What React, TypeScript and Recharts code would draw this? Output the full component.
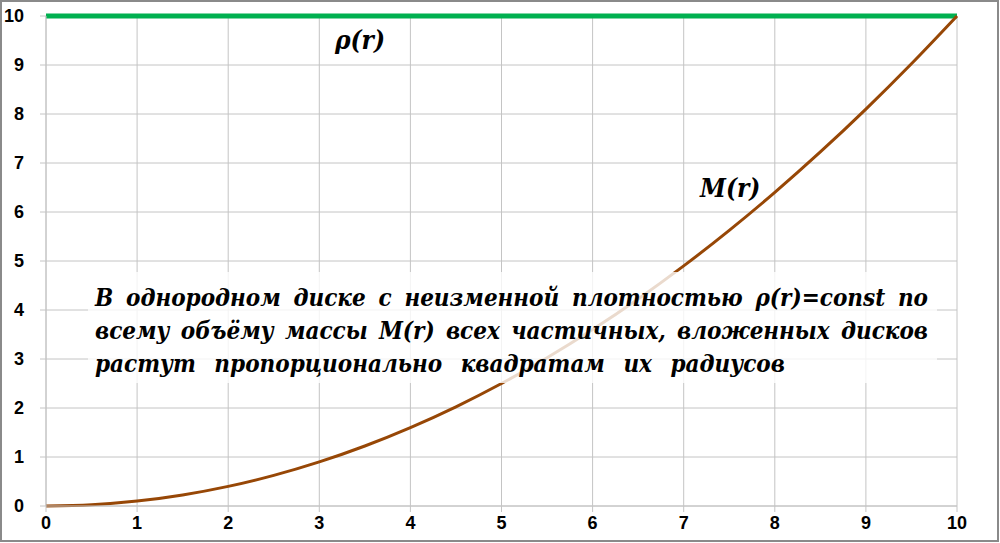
import React from 'react';
import { LineChart, Line, XAxis, YAxis, CartesianGrid } from 'recharts';

// radius of the nested disc
const radii = [0, 0.5, 1, 1.5, 2, 2.5, 3, 3.5, 4, 4.5, 5, 5.5, 6, 6.5, 7, 7.5, 8, 8.5, 9, 9.5, 10];
// M(r)
const massValues = [0, 0.025, 0.1, 0.225, 0.4, 0.625, 0.9, 1.225, 1.6, 2.025, 2.5, 3.025, 3.6, 4.225, 4.9, 5.625, 6.4, 7.225, 8.1, 9.025, 10];
// rho(r), the flat green line
const densityValues = [10, 10, 10, 10, 10, 10, 10, 10, 10, 10, 10, 10, 10, 10, 10, 10, 10, 10, 10, 10, 10];

const xTicks = [0, 1, 2, 3, 4, 5, 6, 7, 8, 9, 10];
const yTicks = [0, 1, 2, 3, 4, 5, 6, 7, 8, 9, 10];

const noteLines = [
  'В однородном диске с неизменной плотностью ρ(r)=const по',
  'всему объёму массы M(r) всех частичных, вложенных дисков',
  'растут пропорционально квадратам их радиусов',
];

const data = radii.map((r, i) => ({ r, rho: densityValues[i], mass: massValues[i] }));

const serif = '"DejaVu Serif Condensed", "DejaVu Serif", serif';
const serifText = {
  fontFamily: serif,
  fontStretch: 'condensed' as const,
  fontWeight: 700,
  fontStyle: 'italic' as const,
  color: '#000',
};

const renderTick = (anchor: 'middle' | 'end', dyEm: string) => (props: any) => {
  const { x, y, payload } = props;
  return (
    <text
      x={x}
      y={y}
      dy={dyEm}
      textAnchor={anchor}
      fill="#000"
      fontFamily="Liberation Sans, Arial, sans-serif"
      fontWeight={700}
      fontSize={18}
    >
      {payload.value}
    </text>
  );
};

export default function App() {
  return (
    <div style={{ position: 'absolute', left: 0, top: 0, width: 1000, height: 543, background: '#fff' }}>
      <LineChart width={1000} height={543} data={data} margin={{ top: 16, right: 43, bottom: 7, left: 6 }}>
        <CartesianGrid stroke="#c4c4c4" strokeWidth={1} />
        <XAxis
          dataKey="r"
          type="number"
          domain={[0, 10]}
          ticks={xTicks}
          height={30}
          tickSize={6}
          tickMargin={4}
          stroke="#c4c4c4"
          tick={renderTick('middle', '0.71em')}
          interval={0}
        />
        <YAxis
          type="number"
          domain={[0, 10]}
          ticks={yTicks}
          width={40}
          tickSize={6}
          tickMargin={16}
          stroke="#c4c4c4"
          tick={renderTick('end', '0.36em')}
          interval={0}
        />
        <Line dataKey="rho" type="linear" stroke="#00b050" strokeWidth={5} dot={false} isAnimationActive={false} />
        <Line dataKey="mass" type="monotone" stroke="#974706" strokeWidth={3} dot={false} isAnimationActive={false} />
      </LineChart>

      <div
        style={{
          ...serifText,
          position: 'absolute',
          left: 88,
          top: 272,
          width: 849,
          height: 111,
          boxSizing: 'border-box',
          padding: '9px 9px 0 7px',
          background: 'rgba(255,255,255,0.8)',
          fontSize: 24,
          lineHeight: '33px',
        }}
      >
        {noteLines.map((line, i) => (
          <div
            key={i}
            style={{
              whiteSpace: 'nowrap',
              textAlign: i < 2 ? 'justify' : 'left',
              textAlignLast: i < 2 ? 'justify' : 'left',
              wordSpacing: i === 2 ? 11 : undefined,
            }}
          >
            {line}
          </div>
        ))}
      </div>

      <div style={{ ...serifText, position: 'absolute', left: 335, top: 25, fontSize: 26, lineHeight: '30px' }}>
        ρ(r)
      </div>
      <div style={{ ...serifText, position: 'absolute', left: 700, top: 173, fontSize: 26, lineHeight: '30px' }}>
        M(r)
      </div>

      <div
        style={{
          position: 'absolute',
          left: 0,
          top: 0,
          width: 999,
          height: 542,
          boxSizing: 'border-box',
          border: '2px solid #8a8a8a',
          pointerEvents: 'none',
        }}
      />
    </div>
  );
}
